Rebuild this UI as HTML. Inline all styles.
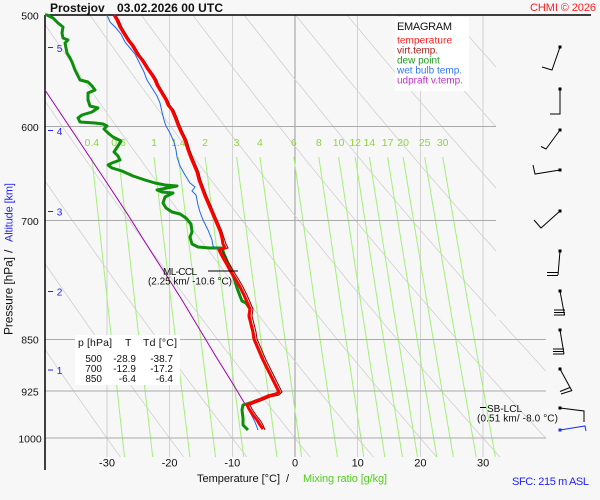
<!DOCTYPE html>
<html><head><meta charset="utf-8"><style>
html,body{margin:0;padding:0;background:#f7f7f7;}
svg{display:block;font-family:"Liberation Sans",Arial,sans-serif;}
</style></head><body>
<svg width="600" height="500" viewBox="0 0 600 500" xmlns="http://www.w3.org/2000/svg">
<defs>
<clipPath id="pc"><polygon points="45,15 496,15 496,320 546,320 546,457 45,457"/></clipPath>
</defs>
<rect x="0" y="0" width="600" height="500" fill="#f7f7f7"/>

<!-- isotherms -->
<g stroke="#d2d2d2" stroke-width="1" shape-rendering="crispEdges">
<line x1="107" y1="15" x2="107" y2="457"/>
<line x1="169.6" y1="15" x2="169.6" y2="457"/>
<line x1="232.3" y1="15" x2="232.3" y2="457"/>
<line x1="357.7" y1="15" x2="357.7" y2="457"/>
<line x1="420.4" y1="15" x2="420.4" y2="457"/>
<line x1="483.1" y1="15" x2="483.1" y2="457"/>
</g>
<line x1="295" y1="15" x2="295" y2="457" stroke="#999" stroke-width="1" shape-rendering="crispEdges"/>

<!-- dry adiabats -->
<g clip-path="url(#pc)" fill="none" stroke="#d0d0d0" stroke-width="0.8">
<polyline points="-167,15 -132.7,73.2 -100.3,126.3 -69.8,175.2 -41,220.4 -0.2,282.6 37.7,339 73.3,390.6 106.9,438.2 120.7,457.4"/>
<polyline points="-115.8,15 -79.8,73.2 -46.1,126.3 -14.4,175.2 15.7,220.4 58,282.6 97.5,339 134.6,390.6 169.6,438.2 184,457.4"/>
<polyline points="-64.4,15 -27,73.2 8,126.3 41,175.2 72.3,220.4 116.3,282.6 157.4,339 195.9,390.6 232.3,438.2 247.2,457.4"/>
<polyline points="-13,15 25.8,73.2 62.2,126.3 96.5,175.2 128.9,220.4 174.6,282.6 217.2,339 257.2,390.6 295,438.2 310.5,457.4"/>
<polyline points="38.4,15 78.7,73.2 116.4,126.3 151.9,175.2 185.5,220.4 232.9,282.6 277.1,339 318.5,390.6 357.7,438.2 373.8,457.4"/>
<polyline points="89.8,15 131.5,73.2 170.5,126.3 207.3,175.2 242.2,220.4 291.1,282.6 336.9,339 379.9,390.6 420.4,438.2 437,457.4"/>
<polyline points="141.3,15 184.4,73.2 224.7,126.3 262.8,175.2 298.8,220.4 349.4,282.6 396.8,339 441.2,390.6 483.1,438.2 500.3,457.4"/>
<polyline points="192.7,15 237.2,73.2 278.9,126.3 318.2,175.2 355.4,220.4 407.7,282.6 456.6,339 502.5,390.6 545.8,438.2 563.6,457.4"/>
<polyline points="244.1,15 290,73.2 333.1,126.3 373.6,175.2 412,220.4 466,282.6 516.5,339 563.8,390.6"/>
<polyline points="295.6,15 342.9,73.2 387.2,126.3 429.1,175.2 468.6,220.4 524.3,282.6 576.3,339"/>
<polyline points="347,15 395.8,73.2 441.5,126.3 484.6,175.2 525.3,220.4"/>
<polyline points="398.4,15 448.6,73.2 495.6,126.3 540,175.2"/>
<polyline points="449.8,15 501.5,73.2 549.8,126.3"/>
</g>

<!-- mixing ratio lines -->
<g fill="none" stroke="#a4f07a" stroke-width="1">
<polyline points="91.8,157 108,307 124.5,457"/>
<polyline points="118.6,157 135.4,307 152.7,457"/>
<polyline points="154,157 171.7,307 189.9,457"/>
<polyline points="178.4,157 196.7,307 215.5,457"/>
<polyline points="205.1,157 224.1,307 243.7,457"/>
<polyline points="236.6,157 256.5,307 277,457"/>
<polyline points="259.9,157 280.4,307 301.6,457"/>
<polyline points="293.8,157 315.3,307 337.4,457"/>
<polyline points="318.8,157 341,307 363.8,457"/>
<polyline points="338.6,157 361.4,307 384.8,457"/>
<polyline points="355.2,157 378.4,307 402.4,457"/>
<polyline points="369.4,157 393.1,307 417.5,457"/>
<polyline points="387.6,157 411.8,307 436.8,457"/>
<polyline points="403.1,157 427.8,307 453.3,457"/>
<polyline points="424.7,157 450.1,307 476.2,457"/>
<polyline points="442.7,157 468.6,307 495.3,457"/>
</g>

<!-- isobars -->
<g stroke="#aaa" stroke-width="1" shape-rendering="crispEdges">
<line x1="45" y1="126.5" x2="496" y2="126.5"/>
<line x1="45" y1="220.5" x2="496" y2="220.5"/>
<line x1="45" y1="339.5" x2="546" y2="339.5"/>
<line x1="45" y1="391" x2="546" y2="391"/>
<line x1="45" y1="438" x2="546" y2="438"/>
</g>

<!-- boxes -->
<rect x="395" y="17" width="74" height="74" fill="#ffffff"/>
<rect x="75" y="335" width="105" height="50" fill="#ffffff"/>

<!-- axes -->
<line x1="45" y1="15" x2="45" y2="470" stroke="#000" stroke-width="1.5"/>
<line x1="45" y1="15" x2="591" y2="15" stroke="#000" stroke-width="1.5"/>

<!-- mixing ratio labels -->
<g font-size="10.5" fill="#8fd53f" text-anchor="middle">
<text x="91.8" y="146">0.4</text><text x="118.6" y="146">0.6</text><text x="154" y="146">1</text>
<text x="178.4" y="146">1.4</text><text x="205.1" y="146">2</text><text x="236.6" y="146">3</text>
<text x="259.9" y="146">4</text><text x="293.8" y="146">6</text><text x="318.8" y="146">8</text>
<text x="338.6" y="146">10</text><text x="355.2" y="146">12</text><text x="369.4" y="146">14</text>
<text x="387.6" y="146">17</text><text x="403.1" y="146">20</text><text x="424.7" y="146">25</text>
<text x="442.7" y="146">30</text>
</g>

<!-- parcel (updraft) -->
<polyline fill="none" stroke="#a000b0" stroke-width="1" points="45,90 65,120 85,150 107,183 130,218 150,250 170,281 182,300 200,330 215,355 233,384 245,404"/>

<!-- dew point -->
<polyline fill="none" stroke="#0c900c" stroke-width="3" stroke-linejoin="round" points="45,15 47,15 53,18 58,23 63,27 62,33 63,38 68,40 65,43 66,48 67,53 70,58 72,62 75,70 78,76 80,80 88,82 92,86 95,90 88,93 88,100 90,106 98,108 92,112 82,115 78,118 80,122 95,123 103,124 107,126 104,129 108,133 113,137 117,139 121,141 118,146 114,152 118,156 120,160 112,163 108,165 112,168 122,171 133,176 145,180 155,183 165,185 177,186 167,188 157,190 162,192 173,193 165,197 163,203 166,208 172,212 180,214 186,218 191,224 192,232 190,237 192,244 198,247 210,248 222,248 224,254 227,261 230,269 234,278 237,288 240,296 242,301 246,303 250,309 249,316 251,324 253,332 254,339 257,346 260,353 263,360 266,366 269,372 272,378 275,384 277,388 279,392 276,394 268,396 261,399 253,402 243,405 242,410 243,418 243,425 246,428 248,430"/>

<!-- wet bulb -->
<polyline fill="none" stroke="#2266ee" stroke-width="1" points="107,15 110,22 116,28 121,34 125,42 130,48 135,54 139,62 144,72 147,80 152,88 157,96 160,103 162,112 164,120 166,126 170,133 174,142 176,150 177,157 180,166 185,175 190,183 195,187 192,191 196,195 198,205 200,212 203,220 208,230 212,240 213,246 218,249 222,256 226,263 231,272 236,280 240,287 244,295 247,302 250,309 249,316 251,324 253,332 254,339 257,346 260,353 263,360 266,366 269,372 272,378 275,384 277,388 279,392 276,394 268,396 261,399 253,402 246,405 249,410 252,416 255,422 258,430"/>

<!-- virtual temperature -->
<polyline fill="none" stroke="#8b0000" stroke-width="1" points="115.8,15 118.8,20 121.8,27 124.8,32 129.8,40 133.8,45 136.8,50 139.8,55 143.8,60 148.8,68 153.8,75 156.8,80 158.8,85 161.8,90 164.8,95 167.8,100 169.8,105 173.8,110 176.8,117 179.8,125 182.8,132 186.8,140 189.8,150 192.8,158 195.8,165 198.8,172 200.8,180 203.8,188 206.8,196 209.8,203 212.8,210 215.8,217 218.8,224 221.8,231 224,238 226,244 228,248 222,250 225,256 229,263 234,272 239,280 243,287 247,295 250,302 253,309 252,316 254,324 256,332 257,339 260,346 263,353 266,360 269,366 272,372 275,378 278,384 280,388 282,392 279,395 270,397 263,400 255,403 250,405 252,409 256,415 260,420 263,425 265,430"/>

<!-- temperature -->
<polyline fill="none" stroke="#ff0000" stroke-width="3" stroke-linejoin="round" points="114,15 117,20 120,27 123,32 128,40 132,45 135,50 138,55 142,60 147,68 152,75 155,80 157,85 160,90 163,95 166,100 168,105 172,110 175,117 178,125 181,132 185,140 188,150 191,158 194,165 197,172 199,180 202,188 205,196 208,203 211,210 214,217 217,224 220,231 222,238 223,244 225,248 219,250 222,256 226,263 231,272 236,280 240,287 244,295 247,302 250,309 249,316 251,324 253,332 254,339 257,346 260,353 263,360 266,366 269,372 272,378 275,384 277,388 279,392 276,394 268,396 261,399 253,402 247,405 249,409 253,415 257,420 260,425 263,429"/>

<!-- title -->
<text x="50" y="12" font-size="12" font-weight="bold" fill="#111">Prostejov</text>
<text x="117" y="12" font-size="12" font-weight="bold" fill="#111" textLength="106">03.02.2026 00 UTC</text>
<text x="596" y="11" font-size="11" fill="#ff2020" text-anchor="end" textLength="66">CHMI © 2026</text>

<!-- legend -->
<text x="397" y="30" font-size="11" fill="#111" textLength="55">EMAGRAM</text>
<g font-size="10">
<text x="397" y="43.5" fill="#ff2020" textLength="55">temperature</text>
<text x="397" y="53.5" fill="#aa1a1a">virt.temp.</text>
<text x="397" y="63.5" fill="#229922">dew point</text>
<text x="397" y="73.5" fill="#3377ff">wet bulb temp.</text>
<text x="397" y="83.5" fill="#bb33cc">udpraft v.temp.</text>
</g>

<!-- pressure labels -->
<g font-size="10.5" fill="#111" text-anchor="middle">
<text x="30" y="19.5">500</text>
<text x="30" y="131">600</text>
<text x="30" y="225">700</text>
<text x="30" y="343.5">850</text>
<text x="30" y="395.5">925</text>
<text x="30" y="442.5">1000</text>
</g>

<!-- altitude ticks -->
<g stroke="#2222ff" stroke-width="1" shape-rendering="crispEdges">
<line x1="48" y1="47.5" x2="53" y2="47.5"/>
<line x1="48" y1="130.5" x2="53" y2="130.5"/>
<line x1="48" y1="211.5" x2="53" y2="211.5"/>
<line x1="48" y1="291.5" x2="53" y2="291.5"/>
<line x1="48" y1="370" x2="53" y2="370"/>
</g>
<g font-size="10" fill="#2222ff" text-anchor="middle">
<text x="59.5" y="52">5</text>
<text x="59.5" y="135">4</text>
<text x="59.5" y="215.5">3</text>
<text x="59.5" y="295.5">2</text>
<text x="59.5" y="374">1</text>
</g>

<!-- y axis title -->
<g transform="translate(12.5,335) rotate(-90)">
<text x="0" y="0" font-size="12" fill="#111" textLength="78">Pressure [hPa]</text>
<text x="82" y="0" font-size="12" fill="#111">/</text>
<text x="93" y="0" font-size="11" fill="#2222ff" textLength="59">Altitude [km]</text>
</g>

<!-- temperature ticks -->
<g font-size="11" fill="#111" text-anchor="middle">
<text x="107" y="466.5">-30</text>
<text x="169.6" y="466.5">-20</text>
<text x="232.3" y="466.5">-10</text>
<text x="295" y="466.5">0</text>
<text x="357.7" y="466.5">10</text>
<text x="420.4" y="466.5">20</text>
<text x="483.1" y="466.5">30</text>
</g>
<text x="197" y="482" font-size="11" fill="#111" textLength="83">Temperature [°C]</text>
<text x="286" y="482" font-size="11" fill="#111">/</text>
<text x="303" y="482" font-size="11" fill="#55cc22" textLength="84">Mixing ratio [g/kg]</text>
<text x="512" y="485" font-size="11" fill="#2222ff" textLength="77">SFC: 215 m ASL</text>

<!-- table -->
<g font-size="10.5" fill="#111">
<text x="78" y="346" textLength="34">p [hPa]</text>
<text x="125" y="346">T</text>
<text x="143" y="346" textLength="34">Td [°C]</text>
</g>
<g font-size="10" fill="#111" text-anchor="end">
<text x="102" y="362">500</text><text x="136" y="362">-28.9</text><text x="173" y="362">-38.7</text>
<text x="102" y="372">700</text><text x="136" y="372">-12.9</text><text x="173" y="372">-17.2</text>
<text x="102" y="382">850</text><text x="136" y="382">-6.4</text><text x="173" y="382">-6.4</text>
</g>

<!-- CCL / LCL -->
<line x1="208" y1="271" x2="238" y2="271" stroke="#000" stroke-width="1"/>
<text x="163" y="275" font-size="10" fill="#111" textLength="34">ML-CCL</text>
<text x="148" y="284.5" font-size="10" fill="#111" textLength="84">(2.25 km/ -10.6 °C)</text>
<line x1="480" y1="407.5" x2="486" y2="407.5" stroke="#000" stroke-width="1"/>
<text x="487" y="412" font-size="10" fill="#111" textLength="35">SB-LCL</text>
<text x="477" y="421.5" font-size="10" fill="#111" textLength="81">(0.51 km/ -8.0 °C)</text>

<!-- wind barbs -->
<g stroke="#000" stroke-width="1" fill="none">
<polyline points="560,47 552,70 542,67"/>
<polyline points="560,89 560,114 550,114"/>
<polyline points="560,130 546,149 541,146.5"/>
<polyline points="560,170 535,174 533,165"/>
<polyline points="560,211 541,228 534,220"/>
<polyline points="560,251 558,275"/>
<line x1="547" y1="272.5" x2="558" y2="272.5"/><line x1="547" y1="275.5" x2="558" y2="275.5"/>
<polyline points="560,291 564.5,315"/>
<line x1="554" y1="310" x2="565" y2="310"/><line x1="554" y1="312.5" x2="565" y2="312.5"/><line x1="554" y1="315" x2="565" y2="315"/>
<polyline points="560,330 564,354"/>
<line x1="553" y1="349" x2="564" y2="349"/><line x1="553" y1="351.5" x2="564" y2="351.5"/><line x1="553" y1="354" x2="564" y2="354"/>
<polyline points="560,369 572,391"/>
<line x1="561" y1="394" x2="572" y2="390.5"/><line x1="560" y1="391.5" x2="570" y2="387.5"/>
<polyline points="560,408 584,411 584,422"/>
</g>
<polyline points="560,430 585,426 586,431" stroke="#1133ee" stroke-width="1" fill="none"/>
<g fill="#000">
<rect x="558.5" y="45.5" width="3" height="3"/>
<rect x="558.5" y="87.5" width="3" height="3"/>
<rect x="558.5" y="128.5" width="3" height="3"/>
<rect x="558.5" y="168.5" width="3" height="3"/>
<rect x="558.5" y="209.5" width="3" height="3"/>
<rect x="558.5" y="249.5" width="3" height="3"/>
<rect x="558.5" y="289.5" width="3" height="3"/>
<rect x="558.5" y="328.5" width="3" height="3"/>
<rect x="558.5" y="367.5" width="3" height="3"/>
<rect x="558.5" y="406.5" width="3" height="3"/>
</g>
<rect x="558.5" y="428.5" width="3" height="3" fill="#1133ee"/>
</svg>
</body></html>
